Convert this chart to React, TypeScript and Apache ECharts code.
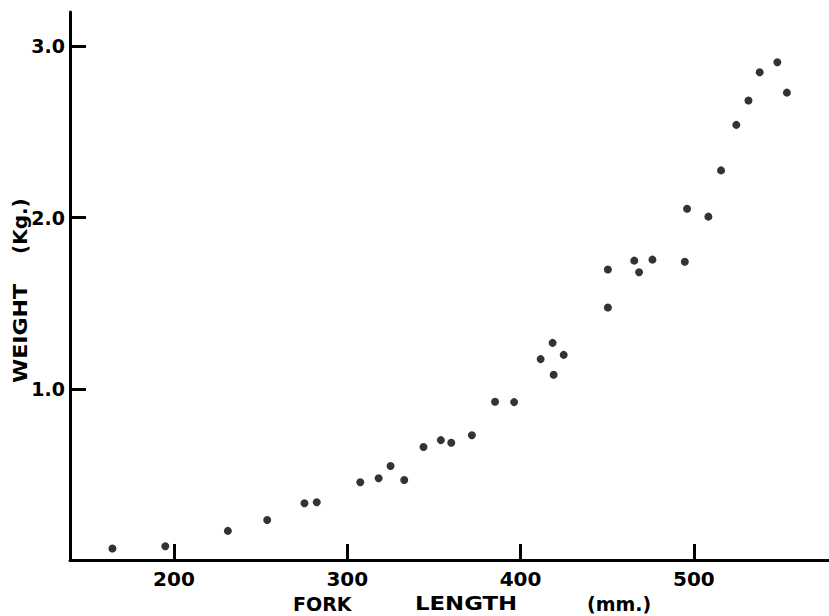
import React, { useEffect, useRef } from "react";
import * as echarts from "echarts";

const forkLength = [
  164.5, 195.0, 231.1, 253.8, 275.3, 282.4, 307.5, 318.1, 325.0, 332.9, 344.0,
  354.0, 360.0, 371.9, 385.3, 396.3, 411.6, 418.5, 419.1, 424.9, 450.4, 450.4,
  465.6, 468.4, 476.1, 494.8, 496.1, 508.4, 515.7, 524.5, 531.5, 538.0, 548.2,
  553.7,
];
const weightKg = [
  0.067, 0.08, 0.17, 0.234, 0.331, 0.337, 0.454, 0.477, 0.549, 0.467, 0.66,
  0.7, 0.685, 0.728, 0.924, 0.922, 1.173, 1.268, 1.082, 1.198, 1.474, 1.696,
  1.748, 1.68, 1.754, 1.742, 2.051, 2.005, 2.275, 2.541, 2.683, 2.848, 2.907,
  2.729,
];
const xTicks = [200, 300, 400, 500];
const yTicks = [1, 2, 3];
const yTickLabels = ["1.0", "2.0", "3.0"];

const FONT = "'DejaVu Sans', sans-serif";

export default function App() {
  const ref = useRef<HTMLDivElement>(null);
  useEffect(() => {
    if (!ref.current) return;
    const chart = echarts.init(ref.current, undefined, { renderer: "svg" });
    const points = forkLength.map((x, i) => [x, weightKg[i]]);
    chart.setOption({
      animation: false,
      backgroundColor: "#ffffff",
      grid: { left: 70, right: 0, top: 12, bottom: 56, containLabel: false },
      xAxis: {
        type: "value",
        min: 140,
        max: 578,
        axisLine: { show: true, onZero: false, lineStyle: { color: "#000", width: 3 } },
        axisTick: {
          show: true,
          inside: true,
          length: 16,
          customValues: xTicks,
          lineStyle: { color: "#000", width: 3 },
        },
        axisLabel: {
          customValues: xTicks,
          margin: 9,
          color: "#000",
          fontFamily: FONT,
          fontWeight: "bold",
          fontSize: 20,
        },
        splitLine: { show: false },
      },
      yAxis: {
        type: "value",
        min: 0,
        max: 3.2,
        axisLine: { show: true, onZero: false, lineStyle: { color: "#000", width: 3 } },
        axisTick: {
          show: true,
          inside: true,
          length: 16,
          customValues: yTicks,
          lineStyle: { color: "#000", width: 3 },
        },
        axisLabel: {
          customValues: yTicks,
          margin: 5,
          color: "#000",
          fontFamily: FONT,
          fontWeight: "bold",
          fontSize: 19,
          formatter: (v: number) => {
            const i = yTicks.indexOf(v);
            return i >= 0 ? yTickLabels[i] : "";
          },
        },
        splitLine: { show: false },
      },
      graphic: [
        {
          type: "text",
          x: 293,
          y: 604,
          style: { text: "FORK", fill: "#000", font: `bold 19px ${FONT}`, textVerticalAlign: "middle" },
        },
        {
          type: "text",
          x: 415,
          y: 604,
          scaleX: 1.2,
          style: { text: "LENGTH", fill: "#000", font: `bold 19px ${FONT}`, textVerticalAlign: "middle" },
        },
        {
          type: "text",
          x: 587,
          y: 604,
          style: { text: "(mm.)", fill: "#000", font: `bold 19px ${FONT}`, textVerticalAlign: "middle" },
        },
        {
          type: "text",
          x: 10,
          y: 383,
          rotation: Math.PI / 2,
          scaleX: 1.1,
          style: { text: "WEIGHT", fill: "#000", font: `bold 20px ${FONT}` },
        },
        {
          type: "text",
          x: 10,
          y: 254,
          rotation: Math.PI / 2,
          style: { text: "(Kg.)", fill: "#000", font: `bold 20px ${FONT}` },
        },
      ],
      series: [
        {
          type: "scatter",
          data: points,
          symbol: "circle",
          symbolSize: 8,
          itemStyle: { color: "#000" },
        },
      ],
    });
    return () => chart.dispose();
  }, []);
  return <div ref={ref} style={{ width: 829, height: 616, position: "absolute", left: 0, top: 0 }} />;
}
